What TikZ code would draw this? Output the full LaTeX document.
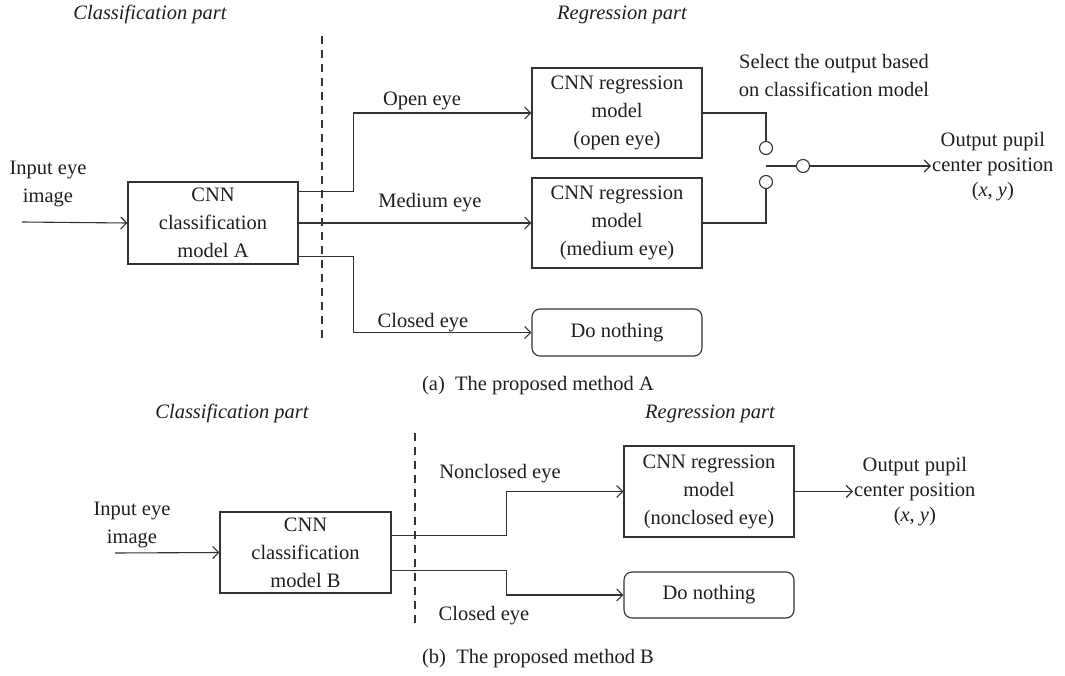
\documentclass[tikz,border=0pt]{standalone}
\usepackage{fontspec}
\setmainfont{Liberation Serif}
\usetikzlibrary{arrows.meta}
\begin{document}
\begin{tikzpicture}[x=1pt,y=-1pt,
  every node/.style={font=\fontsize{20.5}{28}\selectfont, text=black!88},
  ln/.style={draw=black!80, line width=1.1pt},
  arr/.style={ln, -{Straight Barb[length=6pt,width=12pt]}},
  box/.style={ln, rectangle, minimum width=170pt, minimum height=90pt, align=center, inner sep=0pt},
  rbox/.style={box, rounded corners=8pt, minimum height=47pt},
  lbl/.style={anchor=base, inner sep=0pt},
  multi/.style={align=center, inner sep=0pt},
  outtxt/.style={align=center, inner sep=1pt, font=\fontsize{20.5}{25}\selectfont},
  hdr/.style={anchor=base, inner sep=0pt, font=\fontsize{20.5}{28}\selectfont\itshape},
  sw/.style={ln, circle, minimum size=13pt, inner sep=0pt},
  sep/.style={ln, dash pattern=on 8pt off 6pt}
]
\fill[white] (0,0) rectangle (1065,676);
\useasboundingbox (0,0) rectangle (1065,676);

% ---------------- (a) ----------------
\node[hdr] (hca) at (150,20) {Classification part};
\node[hdr] (hra) at (622,20) {Regression part};
\coordinate (da1) at (322,36);
\coordinate (da2) at (322,338);
\draw[sep] (da1) -- (da2);

\node[multi] (ina) at (48,184.5) {Input eye\\image};
\coordinate (ia) at (22,222);
\node[box, minimum height=82pt] (A) at (213,223) {CNN\\classification\\model A};
\draw[arr] (ia) -- (A.west);

\node[box] (ro) at (617,113) {CNN regression\\model\\(open eye)};
\node[box] (rm) at (617,223) {CNN regression\\model\\(medium eye)};
\node[rbox] (dna) at (617,332.5) {Do nothing};

\draw[arr] ([yshift=-10pt]A.north east) -- ++(55,0) |- (ro.west);
\draw[arr] (A.east) -- (rm.west);
\draw[arr] ([yshift=8pt]A.south east) -- ++(55,0) |- (dna.west);

\node[lbl] (lo) at (422,106) {Open eye};
\node[lbl] (lm) at (430,208) {Medium eye};
\node[lbl] (lc) at (423,327) {Closed eye};

\node[sw] (c1) at (766,148) {};
\node[sw] (c2) at (766,182) {};
\node[sw] (c3) at (803,166) {};
\coordinate (swp) at (766,166);
\draw[ln] (ro.east) -| (c1.north);
\draw[ln] (c2.south) |- (rm.east);
\draw[ln] (swp) -- (c3.west);
\node[multi] (sel) at (834,75.5) {Select the output based\\on classification model};
\node[outtxt, anchor=west] (oa) at (931,167) {Output pupil\\center position\\(\textit{x}, \textit{y})};
\draw[arr] (c3.east) -- (c3.east -| oa.west);

\node[lbl] (capa) at (538,390) {(a)\enspace The proposed method A};

% ---------------- (b) ----------------
\node[hdr] (hcb) at (232,418) {Classification part};
\node[hdr] (hrb) at (710,418) {Regression part};
\coordinate (db1) at (415,433);
\coordinate (db2) at (415,627);
\draw[sep] (db1) -- (db2);

\node[multi] (inb) at (132,524.5) {Input eye\\image};
\coordinate (ib) at (115,553);
\node[box, minimum width=171pt, minimum height=81pt] (B) at (305.5,552.5) {CNN\\classification\\model B};
\draw[arr] (ib) -- (B.west);

\node[box, minimum height=91pt] (nb) at (709,491.5) {CNN regression\\model\\(nonclosed eye)};
\node[rbox, minimum height=46pt] (dnb) at (709,595) {Do nothing};

\draw[arr] ([yshift=-24pt]B.north east) -- ++(115,0) |- (nb.west);
\draw[arr] ([yshift=23pt]B.south east) -- ++(115,0) |- (dnb.west);

\node[lbl] (lnc) at (500,478) {Nonclosed eye};
\node[lbl] (lcb) at (484,620) {Closed eye};

\node[outtxt, anchor=west] (ob) at (853,492) {Output pupil\\center position\\(\textit{x}, \textit{y})};
\draw[arr] (nb.east) -- (nb.east -| ob.west);

\node[lbl] (capb) at (538,663) {(b)\enspace The proposed method B};
\end{tikzpicture}
\end{document}
